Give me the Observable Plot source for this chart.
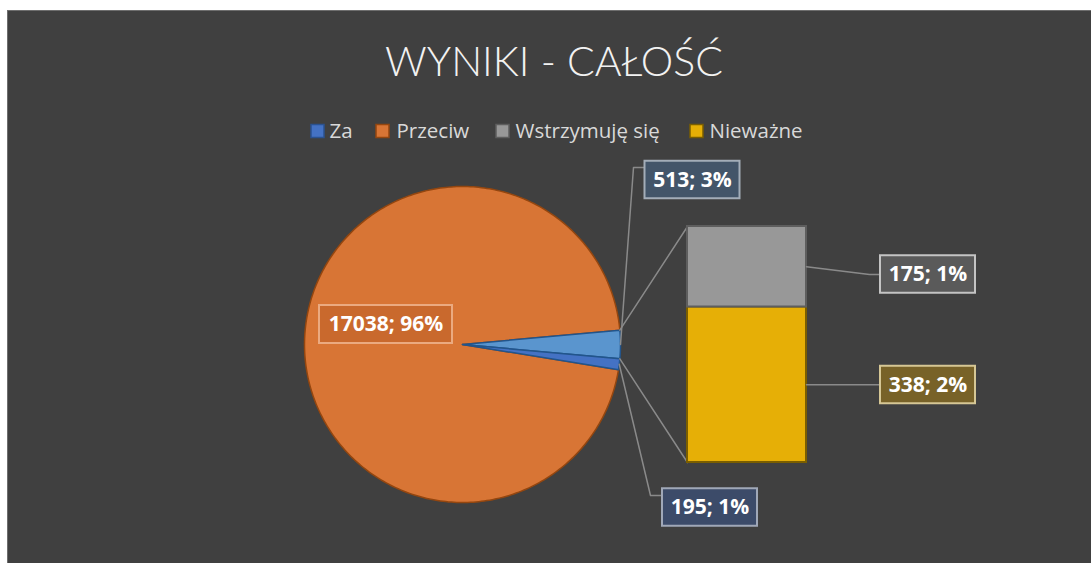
<!DOCTYPE html>
<html><head><meta charset="utf-8">
<script src="https://cdn.jsdelivr.net/npm/d3@7"></script>
<script src="https://cdn.jsdelivr.net/npm/@observablehq/plot@0.6"></script>
<style>
html,body{margin:0;padding:0;background:#fff;width:1091px;height:563px;overflow:hidden;}
#wrap{position:relative;width:1091px;height:563px;}
#bg{position:absolute;left:7px;top:10px;right:0;bottom:0;background:#404040;border-left:1.5px solid #6e6e6e;border-top:1.5px solid #6e6e6e;}
#chart{position:absolute;left:0;top:0;}
#chart svg{background:transparent;}
g[aria-label="label-box"] rect{filter:drop-shadow(4px 6px 4px rgba(0,0,0,0.45));}
</style></head>
<body><div id="wrap"><div id="bg"></div><div id="chart"></div></div>
<script>
// ---- data ----
const title = "WYNIKI - CAŁOŚĆ";
const categories = ["Za", "Przeciw", "Wstrzymuję się", "Nieważne"];
const votes = [195, 17038, 175, 338];
// which categories are split off into the bar (Excel "pie of bar")
const barCategories = ["Wstrzymuję się", "Nieważne"];

// ---- styles ----
const seriesFill = {"Za": "#4472C4", "Przeciw": "#D87535", "Wstrzymuję się": "#989898", "Nieważne": "#E6AF06"};
const seriesStroke = {"Za": "#2A5290", "Przeciw": "#94460F", "Wstrzymuję się": "#5E5E5E", "Nieważne": "#7A5E00"};
const otherFill = "#5A95CE", otherStroke = "#22558C";
const labelFill = {"Za": "#3C4B69", "Przeciw": "#C9692D", "Inne": "#435569", "Wstrzymuję się": "#5A5A5A", "Nieważne": "#786228"};
const labelBorder = {"Za": "#A0A8B8", "Przeciw": "#EBAA80", "Inne": "#A3ADB8", "Wstrzymuję się": "#C4C4C4", "Nieważne": "#D6C795"};

// ---- layout ----
const pieCenter = [462, 344], pieRadius = 158;
const bar = {x1: 687, x2: 806, top: 226, bottom: 462};
const boxW = 95, boxH = 37.5;
const labelLayout = {
  "Przeciw": {cx: 385.5, cy: 324, w: 133, h: 38},
  "Inne": {cx: 692, cy: 179.5, elbow: [633, 167]},
  "Za": {cx: 709.5, cy: 507, elbow: [650, 495]},
  "Wstrzymuję się": {cx: 927.5, cy: 274, elbow: [869, 274]},
  "Nieważne": {cx: 927.5, cy: 384.5, elbow: null}
};
const legendLayout = [{swatch: 311, text: 329}, {swatch: 376, text: 396}, {swatch: 496, text: 515}, {swatch: 690, text: 709}];
const legendY = 131;

// ---- derived ----
const total = d3.sum(votes);
const valueOf = Object.fromEntries(categories.map((c, i) => [c, votes[i]]));
const pct = v => Math.round(v / total * 100) + "%";
const labelText = (v) => `${v}; ${pct(v)}`;
const otherValue = d3.sum(barCategories, c => valueOf[c]);
const rad = Math.PI / 180;
const pt = (deg, r = pieRadius) => [pieCenter[0] + r * Math.cos(deg * rad), pieCenter[1] + r * Math.sin(deg * rad)];

// pie order clockwise starting at the split-off slice centered on the right
const otherAngle = otherValue / total * 360;
const pieOrder = [
  {name: "Inne", value: otherValue, fill: otherFill, stroke: otherStroke},
  {name: "Za", value: valueOf["Za"], fill: seriesFill["Za"], stroke: otherStroke},
  {name: "Przeciw", value: valueOf["Przeciw"], fill: seriesFill["Przeciw"], stroke: seriesStroke["Przeciw"]}
];
let a = -otherAngle / 2;
for (const s of pieOrder) { s.a0 = a; s.a1 = a + s.value / total * 360; s.mid = (s.a0 + s.a1) / 2; a = s.a1; }
const piePoints = [];
for (const s of [pieOrder[2], pieOrder[0], pieOrder[1]]) {
  const n = Math.max(2, Math.ceil((s.a1 - s.a0) / 1));
  piePoints.push({k: s.name, x: pieCenter[0], y: pieCenter[1], fill: s.fill, stroke: s.stroke});
  for (let i = 0; i <= n; i++) {
    const [x, y] = pt(s.a0 + (s.a1 - s.a0) * i / n);
    piePoints.push({k: s.name, x, y, fill: s.fill, stroke: s.stroke});
  }
  piePoints.push({k: s.name, x: pieCenter[0], y: pieCenter[1], fill: s.fill, stroke: s.stroke});
}

// bar segments: stacked bottom-up in reverse order (Nieważne at bottom)
const barScale = (bar.bottom - bar.top) / otherValue;
let acc = 0;
const barSegs = barCategories.slice().reverse().map(c => {
  const v = valueOf[c];
  const seg = {name: c, value: v, y1: bar.bottom - acc * barScale, y2: bar.bottom - (acc + v) * barScale,
               fill: seriesFill[c], stroke: seriesStroke[c]};
  acc += v;
  return seg;
});

// connector lines from pie split slice to bar
const other = pieOrder[0];
const connectors = [
  {k: "top", pts: [pt(other.a0), [bar.x1, bar.top]]},
  {k: "bot", pts: [pt(other.a1), [bar.x1, bar.bottom]]}
].flatMap(c => c.pts.map(([x, y]) => ({k: c.k, x, y})));

// data labels
const labels = [];
const leaders = [];
for (const s of pieOrder) {
  const L = labelLayout[s.name];
  labels.push({name: s.name, text: labelText(s.value), cx: L.cx, cy: L.cy, w: L.w || boxW, h: L.h || boxH});
  if (L.elbow) {
    const start = pt(s.mid);
    [start, L.elbow, [L.cx - boxW / 2, L.elbow[1]]].forEach(([x, y]) => leaders.push({k: s.name, x, y}));
  }
}
for (const seg of barSegs) {
  const L = labelLayout[seg.name];
  labels.push({name: seg.name, text: labelText(seg.value), cx: L.cx, cy: L.cy, w: boxW, h: boxH});
  const start = [bar.x2, (seg.y1 + seg.y2) / 2];
  const pts = L.elbow ? [start, L.elbow, [L.cx - boxW / 2, L.elbow[1]]] : [start, [L.cx - boxW / 2, start[1]]];
  pts.forEach(([x, y]) => leaders.push({k: seg.name, x, y}));
}

// legend
const legend = categories.map((c, i) => ({name: c, sx: legendLayout[i].swatch, tx: legendLayout[i].text,
  fill: seriesFill[c], stroke: seriesStroke[c]}));

const fontMain = "'Open Sans', 'DejaVu Sans', sans-serif";

const plot = Plot.plot({
  width: 1091, height: 563,
  margin: 0,
  axis: null,
  x: {type: "identity", axis: null}, y: {type: "identity", axis: null}, color: {type: "identity"},
  style: {background: "transparent", overflow: "visible"},
  marks: [
    // title
    Plot.text([title], {x: () => 553.5, y: () => 62, text: d => d, fontSize: 41, fontWeight: 300,
      fontFamily: "Lato, 'Open Sans', sans-serif", fill: "#F2F2F2", textAnchor: "middle", lineAnchor: "middle"}),
    // legend
    Plot.rect(legend, {x1: "sx", x2: d => d.sx + 13, y1: legendY - 6.5, y2: legendY + 6.5, fill: "fill", stroke: "stroke", strokeWidth: 1.5}),
    Plot.text(legend, {x: "tx", y: legendY, text: "name", textAnchor: "start", lineAnchor: "middle",
      fontSize: 20.5, fontFamily: fontMain, fill: "#D9D9D9"}),
    // pie
    Plot.line(piePoints, {x: "x", y: "y", z: "k", fill: "fill", stroke: "stroke", strokeWidth: 1.5, curve: "linear", strokeLinejoin: "round"}),
    // connectors
    Plot.line(connectors, {x: "x", y: "y", z: "k", stroke: "#8A8A8A", strokeWidth: 1.5}),
    // bar
    Plot.rect(barSegs, {x1: bar.x1, x2: bar.x2, y1: "y1", y2: "y2", fill: "fill", stroke: "stroke", strokeWidth: 2}),
    // leaders
    Plot.line(leaders, {x: "x", y: "y", z: "k", stroke: "#8A8A8A", strokeWidth: 1.5, curve: "linear"}),
    // label boxes
    Plot.rect(labels, {x1: d => d.cx - d.w / 2, x2: d => d.cx + d.w / 2, y1: d => d.cy - d.h / 2, y2: d => d.cy + d.h / 2,
      fill: d => labelFill[d.name], stroke: d => labelBorder[d.name], strokeWidth: 2, ariaLabel: "label-box"}),
    Plot.text(labels, {x: "cx", y: "cy", text: "text", fontSize: 21, fontWeight: 700, fontFamily: fontMain,
      fill: "#FFFFFF", textAnchor: "middle", lineAnchor: "middle"})
  ]
});
document.getElementById("chart").appendChild(plot);
</script>
</body></html>
